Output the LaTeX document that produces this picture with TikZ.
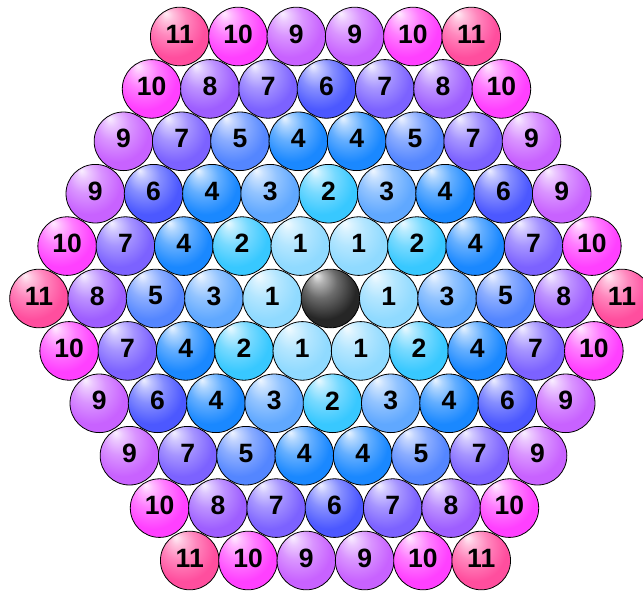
\documentclass[tikz,border=0pt]{standalone}
\usepackage{fontspec}
\setmainfont{Liberation Sans}
\usetikzlibrary{calc}
\definecolor{shell0}{HTML}{262626}
\definecolor{shell1}{HTML}{90DAFF}
\definecolor{shell2}{HTML}{38C8FF}
\definecolor{shell3}{HTML}{60A8FF}
\definecolor{shell4}{HTML}{1A88FF}
\definecolor{shell5}{HTML}{5486FF}
\definecolor{shell6}{HTML}{4C58FF}
\definecolor{shell7}{HTML}{7C62FF}
\definecolor{shell8}{HTML}{9E5EFF}
\definecolor{shell9}{HTML}{C862FF}
\definecolor{shell10}{HTML}{FF40FF}
\definecolor{shell11}{HTML}{FF4E9E}
\colorlet{ballc}{shell1}
\pgfdeclareradialshading[ballc]{sphere}{\pgfpoint{-12bp}{20bp}}{%
  color(0bp)=(ballc!10!white);
  color(5bp)=(ballc!35!white);
  color(14bp)=(ballc!68!white);
  color(27bp)=(ballc);
  color(42bp)=(ballc);
  color(50bp)=(ballc!86!black)}
\tikzset{
  sphere color/.code={\colorlet{ballc}{#1}},
  ball/.style={circle, minimum size=58.6pt, inner sep=0pt, draw=black,
    line width=0.8pt, shading=sphere},
  num/.style={inner sep=0pt, font=\fontsize{26.5}{26.5}\selectfont\bfseries}
}
% one row of the hexagon: #1 row index (0 = top), #2 shell numbers (0 = core)
\newcommand{\ballrow}[2]{%
  \pgfmathsetmacro{\rowy}{36.5+#1*52.4}
  \pgfmathsetmacro{\rowx}{330.5+(#1-5)*1.0-(10-abs(#1-5))*29.15}
  \foreach \s [count=\k from 0] in {#2} {
    \node[ball, sphere color=shell\s] (b#1-\k) at ({\rowx+\k*58.3},\rowy) {};
    \ifnum\s>0
      \node[num] (t#1-\k) at ([yshift=2.5pt]b#1-\k.center) {\s};
    \fi
  }
}

\begin{document}
\begin{tikzpicture}[x=1pt, y=-1pt]
  \useasboundingbox (0,0) rectangle (643,592);
  \clip (0,0) rectangle (643,592);

  % Rows 0-4
  \ballrow{0}{11,10,9,9,10,11}
  \ballrow{1}{10,8,7,6,7,8,10}
  \ballrow{2}{9,7,5,4,4,5,7,9}
  \ballrow{3}{9,6,4,3,2,3,4,6,9}
  \ballrow{4}{10,7,4,2,1,1,2,4,7,10}

  % Row 5 -- the core sits in the middle
  \ballrow{5}{11,8,5,3,1,0,1,3,5,8,11}

  % Rows 6-10
  \ballrow{6}{10,7,4,2,1,1,2,4,7,10}
  \ballrow{7}{9,6,4,3,2,3,4,6,9}
  \ballrow{8}{9,7,5,4,4,5,7,9}
  \ballrow{9}{10,8,7,6,7,8,10}
  \ballrow{10}{11,10,9,9,10,11}
\end{tikzpicture}
\end{document}
